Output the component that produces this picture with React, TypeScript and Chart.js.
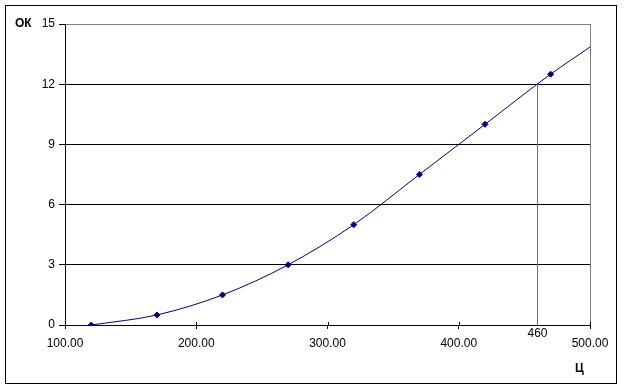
import React, { useEffect, useRef } from "react";
import { Chart, registerables } from "chart.js";

Chart.register(...registerables);

const priceX = [120, 170, 220, 270, 320, 370, 420, 470, 500];
const okY = [0, 0.5, 1.5, 3, 5, 7.5, 10, 12.5, 13.85];
const markerShown = [1, 1, 1, 1, 1, 1, 1, 1, 0];
const xTicks = [100, 200, 300, 400, 460, 500];
const yTicks = [0, 3, 6, 9, 12, 15];
const markX = 460;
const markY = 12;
const yTitle = "ОК";
const xTitle = "Ц";

const FONT = "'Liberation Sans', Arial, sans-serif";

const decorPlugin = {
  id: "decor",
  beforeDraw(chart: any) {
    const ctx = chart.ctx;
    ctx.save();
    ctx.fillStyle = "#fff";
    ctx.fillRect(0, 0, chart.width, chart.height);
    ctx.strokeStyle = "#000";
    ctx.lineWidth = 1;
    ctx.strokeRect(5.5, 5.5, 611, 378);
    ctx.restore();
  },
  afterDraw(chart: any) {
    const ctx = chart.ctx;
    const xs = chart.scales.x;
    const ys = chart.scales.y;
    ctx.save();
    ctx.fillStyle = "#000";
    ctx.font = `bold 12px ${FONT}`;
    ctx.textBaseline = "middle";
    ctx.textAlign = "left";
    ctx.fillText(yTitle, 15, ys.getPixelForValue(15));
    ctx.textAlign = "center";
    ctx.fillText(xTitle, xs.getPixelForValue(492), 369);
    ctx.font = `12px ${FONT}`;
    ctx.fillText(String(markX), xs.getPixelForValue(markX), 334);
    // tick marks crossing the axis slightly above
    ctx.strokeStyle = "#000";
    ctx.lineWidth = 1;
    const b = chart.chartArea.bottom;
    xTicks.forEach((v) => {
      if (v === markX) return;
      const px = Math.round(xs.getPixelForValue(v)) + 0.5;
      ctx.beginPath();
      ctx.moveTo(px, b - 3);
      ctx.lineTo(px, b);
      ctx.stroke();
    });
    ctx.restore();
  },
};

export default function App() {
  const ref = useRef<HTMLCanvasElement>(null);
  useEffect(() => {
    const pts = priceX.map((x, i) => ({ x, y: okY[i] }));
    const chart = new Chart(ref.current!, {
      type: "scatter",
      data: {
        datasets: [
          {
            data: [
              { x: markX, y: 0 },
              { x: markX, y: markY },
            ],
            showLine: true,
            borderColor: "#707070",
            borderWidth: 1,
            pointRadius: 0,
          },
          {
            data: pts,
            showLine: true,
            borderColor: "#000080",
            borderWidth: 1,
            backgroundColor: "#000080",
            pointBackgroundColor: "#000080",
            pointBorderColor: "#000080",
            pointStyle: "rectRot",
            pointRadius: markerShown.map((m) => (m ? 3 : 0)),
            cubicInterpolationMode: "monotone",
          } as any,
        ],
      },
      options: {
        responsive: false,
        animation: false,
        layout: { padding: { left: 0, right: 34, top: 24, bottom: 0 } },
        plugins: {
          legend: { display: false },
          tooltip: { enabled: false },
        },
        scales: {
          x: {
            type: "linear",
            min: 100,
            max: 500,
            afterFit: (s: any) => {
              s.height = 66;
            },
            afterBuildTicks: (s: any) => {
              s.ticks = xTicks.map((v) => ({ value: v }));
            },
            border: { color: "#000", width: 1 },
            grid: {
              drawOnChartArea: true,
              color: (c: any) =>
                c.tick && c.tick.value === 500 ? "#808080" : "rgba(0,0,0,0)",
              tickColor: (c: any) =>
                c.tick && c.tick.value === markX ? "rgba(0,0,0,0)" : "#000",
              tickLength: 4,
            },
            ticks: {
              autoSkip: false,
              maxRotation: 0,
              color: "#000",
              padding: 7,
              font: { family: FONT, size: 12 },
              callback: (v: any) => (v === markX ? "" : Number(v).toFixed(2)),
            },
          },
          y: {
            min: 0,
            max: 15,
            afterFit: (s: any) => {
              s.width = 65;
            },
            afterBuildTicks: (s: any) => {
              s.ticks = yTicks.map((v) => ({ value: v }));
            },
            border: { color: "#000", width: 1 },
            grid: {
              color: (c: any) =>
                c.tick && c.tick.value === 15 ? "#808080" : "#000",
              tickColor: "#000",
              tickLength: 6,
            },
            ticks: {
              color: "#000",
              padding: 4,
              font: { family: FONT, size: 12 },
              callback: (v: any) => String(v),
            },
          },
        },
      },
      plugins: [decorPlugin],
    });
    return () => chart.destroy();
  }, []);
  return (
    <div style={{ position: "absolute", left: 0, top: 0, width: 624, height: 391 }}>
      <canvas ref={ref} width={624} height={391} />
    </div>
  );
}
